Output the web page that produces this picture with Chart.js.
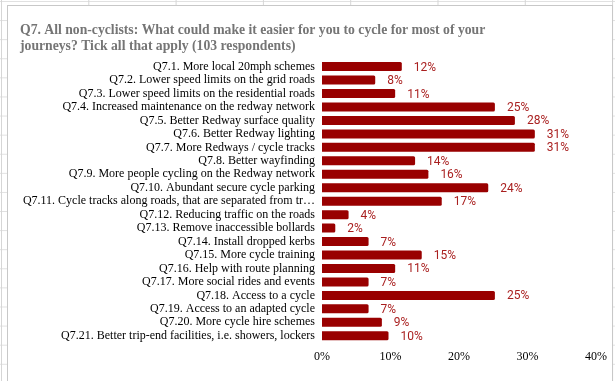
<!DOCTYPE html>
<html>
<head>
<meta charset="utf-8">
<script src="https://cdn.jsdelivr.net/npm/chart.js@4"></script>
<style>
    html, body { margin: 0; padding: 0; }
    body {
        width: 615px; height: 381px; overflow: hidden; position: relative;
        background-color: #fff;
        background-image:
            linear-gradient(to right, #d6d6d6 1px, transparent 1px),
            linear-gradient(to bottom, #e0e0e0 1px, transparent 1px);
        background-size: 87.3px 100%, 100% 19.1px;
        background-position: 1px 0, 0 1px;
    }
    #frame {
        position: absolute; left: 7px; top: 5px; width: 604px; height: 400px;
        border: 1px solid #c8c8c8; background: #fff;
    }
    #chart { position: absolute; left: 0; top: 0; }
</style>
</head>
<body>
<div id="frame"></div>
<canvas id="chart" width="615" height="381"></canvas>
<script>
    const categories = [
        'Q7.1. More local 20mph schemes',
        'Q7.2. Lower speed limits on the grid roads',
        'Q7.3. Lower speed limits on the residential roads',
        'Q7.4. Increased maintenance on the redway network',
        'Q7.5. Better Redway surface quality',
        'Q7.6. Better Redway lighting',
        'Q7.7. More Redways / cycle tracks',
        'Q7.8. Better wayfinding',
        'Q7.9. More people cycling on the Redway network',
        'Q7.10. Abundant secure cycle parking',
        'Q7.11. Cycle tracks along roads, that are separated from tr\u2026',
        'Q7.12. Reducing traffic on the roads',
        'Q7.13. Remove inaccessible bollards',
        'Q7.14. Install dropped kerbs',
        'Q7.15. More cycle training',
        'Q7.16. Help with route planning',
        'Q7.17. More social rides and events',
        'Q7.18. Access to a cycle',
        'Q7.19. Access to an adapted cycle',
        'Q7.20. More cycle hire schemes',
        'Q7.21. Better trip-end facilities, i.e. showers, lockers'
    ];

    // share of respondents, in percent
    const shares = [11.65, 7.77, 10.68, 25.24, 28.16, 31.07, 31.07, 13.59, 15.53, 24.27,
                    17.48, 3.88, 1.94, 6.80, 14.56, 10.68, 6.80, 25.24, 6.80, 8.74, 9.71];

    const xMin = 0;
    const xMax = 40;
    const xStep = 10;

    const titleLines = [
        'Q7. All non-cyclists: What could make it easier for you to cycle for most of your',
        'journeys? Tick all that apply (103 respondents)'
    ];

    // draws the "12%" style labels at the end of each bar
    const barLabels = {
        id: 'barLabels',
        afterDatasetsDraw(chart) {
            const ctx = chart.ctx;
            const meta = chart.getDatasetMeta(0);
            ctx.save();
            ctx.font = '12px Roboto';
            ctx.fillStyle = '#a91f1f';
            ctx.textBaseline = 'middle';
            meta.data.forEach((bar, i) => {
                ctx.fillText(Math.round(shares[i]) + '%', bar.x + 12, bar.y + 1);
            });
            ctx.restore();
        }
    };

    new Chart(document.getElementById('chart'), {
        type: 'bar',
        data: {
            labels: categories,
            datasets: [{
                data: shares,
                backgroundColor: '#990000',
                barPercentage: 0.67,
                categoryPercentage: 1,
                borderRadius: 1.5
            }]
        },
        options: {
            indexAxis: 'y',
            responsive: false,
            animation: false,
            layout: { padding: { left: 20, right: 19, top: 0, bottom: 17.5 } },
            plugins: {
                legend: { display: false },
                tooltip: { enabled: false },
                title: {
                    display: true,
                    text: titleLines,
                    align: 'start',
                    color: '#757575',
                    font: { family: 'Liberation Serif', size: 13.7, weight: 'bold', lineHeight: 1.2 },
                    padding: { top: 21.75, bottom: 5.25 }
                }
            },
            scales: {
                x: {
                    min: xMin,
                    max: xMax,
                    ticks: {
                        stepSize: xStep,
                        callback: v => v + '%',
                        color: '#000',
                        font: { family: 'Liberation Serif', size: 12 },
                        padding: 7
                    },
                    grid: { display: false, drawTicks: false },
                    border: { display: false },
                    afterFit(scale) { scale.height = 21; }
                },
                y: {
                    ticks: {
                        color: '#000',
                        font: { family: 'Liberation Serif', size: 12 },
                        padding: 7,
                        autoSkip: false
                    },
                    grid: { display: false, drawTicks: false },
                    border: { display: false },
                    afterFit(scale) { scale.width = 302; }
                }
            }
        },
        plugins: [barLabels]
    });
</script>
</body>
</html>
